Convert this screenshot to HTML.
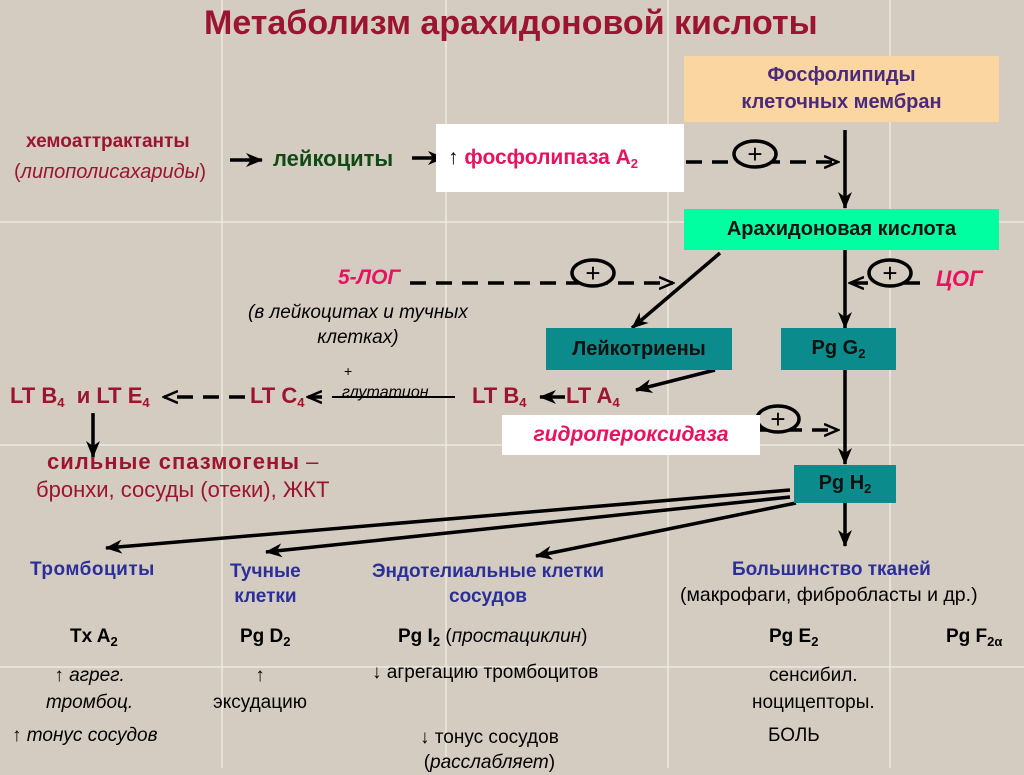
<!DOCTYPE html>
<html><head><meta charset="utf-8"><style>
body{margin:0;width:1024px;height:768px;overflow:hidden;background:#d5ccc1;font-family:"Liberation Sans",sans-serif;position:relative}
.t{position:absolute;white-space:nowrap}
.b{font-weight:bold}
.red{color:#9b1530}.pink{color:#e8125f}.blue{color:#2a2f9a}.grn{color:#0e4a12}
.box{position:absolute;display:flex;align-items:center;justify-content:center;font-weight:bold;font-size:19px;text-align:center}
.teal{background:#0b8b8b;color:#111}
sub{font-size:13px;vertical-align:-4px}
.c{text-align:center}
</style></head><body>
<svg width="1024" height="768" style="position:absolute;left:0;top:0">
<g stroke="#ede8e0" stroke-width="1.5">
<line x1="222" y1="0" x2="222" y2="768"/><line x1="446" y1="0" x2="446" y2="768"/><line x1="668" y1="0" x2="668" y2="768"/><line x1="890" y1="0" x2="890" y2="768"/>
<line x1="0" y1="222" x2="1024" y2="222"/><line x1="0" y1="445" x2="1024" y2="445"/><line x1="0" y1="667" x2="1024" y2="667"/>
</g>
<defs><marker id="a" markerWidth="18" markerHeight="14" refX="16" refY="7" orient="auto" markerUnits="userSpaceOnUse"><path d="M0,0 L17,7 L0,14 L5,7z" fill="#000"/></marker>
<marker id="o" markerWidth="16" markerHeight="14" refX="14" refY="7" orient="auto" markerUnits="userSpaceOnUse"><path d="M0,1 L14,7 L0,13" fill="none" stroke="#000" stroke-width="2.5"/></marker></defs>
<g stroke="#000" stroke-width="3.5" fill="none">
<line x1="230" y1="160" x2="262" y2="160" marker-end="url(#a)"/>
<line x1="412" y1="158" x2="444" y2="158" marker-end="url(#a)"/>
<line x1="845" y1="130" x2="845" y2="208" marker-end="url(#a)"/>
<line x1="845" y1="250" x2="845" y2="328" marker-end="url(#a)"/>
<line x1="845" y1="370" x2="845" y2="464" marker-end="url(#a)"/>
<line x1="845" y1="503" x2="845" y2="546" marker-end="url(#a)"/>
<line x1="720" y1="253" x2="632" y2="328" marker-end="url(#a)"/>
<line x1="715" y1="370" x2="636" y2="390" marker-end="url(#a)"/>
<line x1="93" y1="413" x2="93" y2="457" marker-end="url(#a)"/>
<line x1="790" y1="490" x2="106" y2="548" marker-end="url(#a)"/>
<line x1="790" y1="497" x2="266" y2="552" marker-end="url(#a)"/>
<line x1="796" y1="503" x2="536" y2="556" marker-end="url(#a)"/>
<line x1="565" y1="397" x2="540" y2="397" marker-end="url(#a)"/>
</g>
<g stroke="#000" stroke-width="3.5" fill="none" stroke-dasharray="16,10">
<line x1="686" y1="162" x2="838" y2="162" marker-end="url(#o)"/>
<line x1="410" y1="283" x2="673" y2="283" marker-end="url(#o)"/>
<line x1="920" y1="283" x2="850" y2="283" marker-end="url(#o)"/>
<line x1="760" y1="430" x2="838" y2="430" marker-end="url(#o)"/>
<line x1="245" y1="397" x2="164" y2="397" marker-end="url(#o)"/>
<line x1="322" y1="397" x2="308" y2="397" marker-end="url(#o)"/>
</g>
<line x1="332" y1="397" x2="455" y2="397" stroke="#000" stroke-width="2"/>
<g stroke="#000" stroke-width="3.5" fill="#d5ccc1">
<ellipse cx="755" cy="154" rx="21" ry="13"/><ellipse cx="593" cy="273" rx="21" ry="13"/><ellipse cx="890" cy="273" rx="21" ry="13"/><ellipse cx="778" cy="419" rx="21" ry="13"/>
</g>
<g font-family="Liberation Sans" font-size="26" text-anchor="middle">
<text x="755" y="163">+</text><text x="593" y="282">+</text><text x="890" y="282">+</text><text x="778" y="428">+</text></g>
</svg>
<div class="t b red" style="left:204px;top:4px;font-size:34px">Метаболизм арахидоновой кислоты</div>
<div class="box" style="left:684px;top:56px;width:315px;height:66px;background:#fbd6a0;color:#4a2a7a;font-size:20px;line-height:27px"><span>Фосфолипиды<br>клеточных мембран</span></div>
<div class="t b red c" style="left:26px;top:131px;font-size:19px">хемоаттрактанты</div>
<div class="t red" style="left:14px;top:161px;font-size:20px">(<i>липополисахариды</i>)</div>
<div class="t b grn" style="left:273px;top:146px;font-size:22px">лейкоциты</div>
<div class="box" style="left:436px;top:124px;width:248px;height:68px;background:#fff;justify-content:flex-start;padding-left:12px;box-sizing:border-box;font-size:21px"><span><span style="font-weight:normal">↑</span>&nbsp;<span class="pink">фосфолипаза А<sub>2</sub></span></span></div>
<div class="box" style="left:684px;top:209px;width:315px;height:41px;background:#00ffa0;color:#111;font-size:20px"><span>Арахидоновая кислота</span></div>
<div class="t b pink" style="left:338px;top:266px;font-size:21px;font-style:italic">5-ЛОГ</div>
<div class="t b pink" style="left:936px;top:266px;font-size:22px;font-style:italic">ЦОГ</div>
<div class="t c" style="left:248px;top:300px;font-size:19px;font-style:italic;line-height:25px">(в лейкоцитах и тучных<br>клетках)</div>
<div class="box teal" style="left:546px;top:328px;width:186px;height:42px;font-size:20px"><span>Лейкотриены</span></div>
<div class="box teal" style="left:781px;top:328px;width:115px;height:42px;font-size:20px"><span>Pg G<sub>2</sub></span></div>
<div class="t" style="left:344px;top:363px;font-size:14px">+</div>
<div class="t" style="left:342px;top:384px;font-size:16px;font-style:italic">глутатион</div>
<div class="t b red" style="left:10px;top:383px;font-size:22px">LT B<sub>4</sub>&nbsp; и LT E<sub>4</sub></div>
<div class="t b red" style="left:250px;top:383px;font-size:22px">LT C<sub>4</sub></div>
<div class="t b red" style="left:472px;top:383px;font-size:22px">LT B<sub>4</sub></div>
<div class="t b red" style="left:566px;top:383px;font-size:22px">LT A<sub>4</sub></div>
<div class="box" style="left:502px;top:415px;width:258px;height:40px;background:#fff;font-size:21px;font-style:italic"><span class="pink">гидропероксидаза</span></div>
<div class="box teal" style="left:794px;top:465px;width:102px;height:38px;font-size:20px"><span>Pg H<sub>2</sub></span></div>
<div class="t red c" style="left:36px;top:448px;font-size:22px;line-height:28px"><b style="letter-spacing:1px">сильные спазмогены</b> –<br>бронхи, сосуды (отеки), ЖКТ</div>
<div class="t b blue" style="left:30px;top:559px;font-size:19px;letter-spacing:0.5px">Тромбоциты</div>
<div class="t b blue c" style="left:230px;top:559px;font-size:19px;line-height:25px">Тучные<br>клетки</div>
<div class="t b blue c" style="left:372px;top:559px;font-size:19px;line-height:25px">Эндотелиальные клетки<br>сосудов</div>
<div class="t b blue" style="left:732px;top:559px;font-size:19px">Большинство тканей</div>
<div class="t" style="left:680px;top:584px;font-size:19.5px">(макрофаги, фибробласты и др.)</div>
<div class="t b" style="left:70px;top:626px;font-size:19px">Tx A<sub>2</sub></div>
<div class="t b" style="left:240px;top:626px;font-size:19px">Pg D<sub>2</sub></div>
<div class="t" style="left:398px;top:626px;font-size:19px"><b>Pg I<sub>2</sub></b> (<i>простациклин</i>)</div>
<div class="t b" style="left:769px;top:626px;font-size:19px">Pg E<sub>2</sub></div>
<div class="t b" style="left:946px;top:626px;font-size:19px">Pg F<sub>2α</sub></div>
<div class="t c" style="left:46px;top:662px;font-size:19px;line-height:27px;font-style:italic">↑ агрег.<br>тромбоц.</div>
<div class="t c" style="left:213px;top:662px;font-size:19px;line-height:27px">↑<br>эксудацию</div>
<div class="t" style="left:372px;top:662px;font-size:19px">↓ агрегацию тромбоцитов</div>
<div class="t c" style="left:752px;top:662px;font-size:19px;line-height:27px">сенсибил.<br>ноцицепторы.</div>
<div class="t" style="left:12px;top:725px;font-size:19px">↑ <i>тонус сосудов</i></div>
<div class="t c" style="left:420px;top:725px;font-size:19px;line-height:25px">↓ тонус сосудов<br>(<i>расслабляет</i>)</div>
<div class="t" style="left:768px;top:725px;font-size:19px">БОЛЬ</div>
</body></html>
